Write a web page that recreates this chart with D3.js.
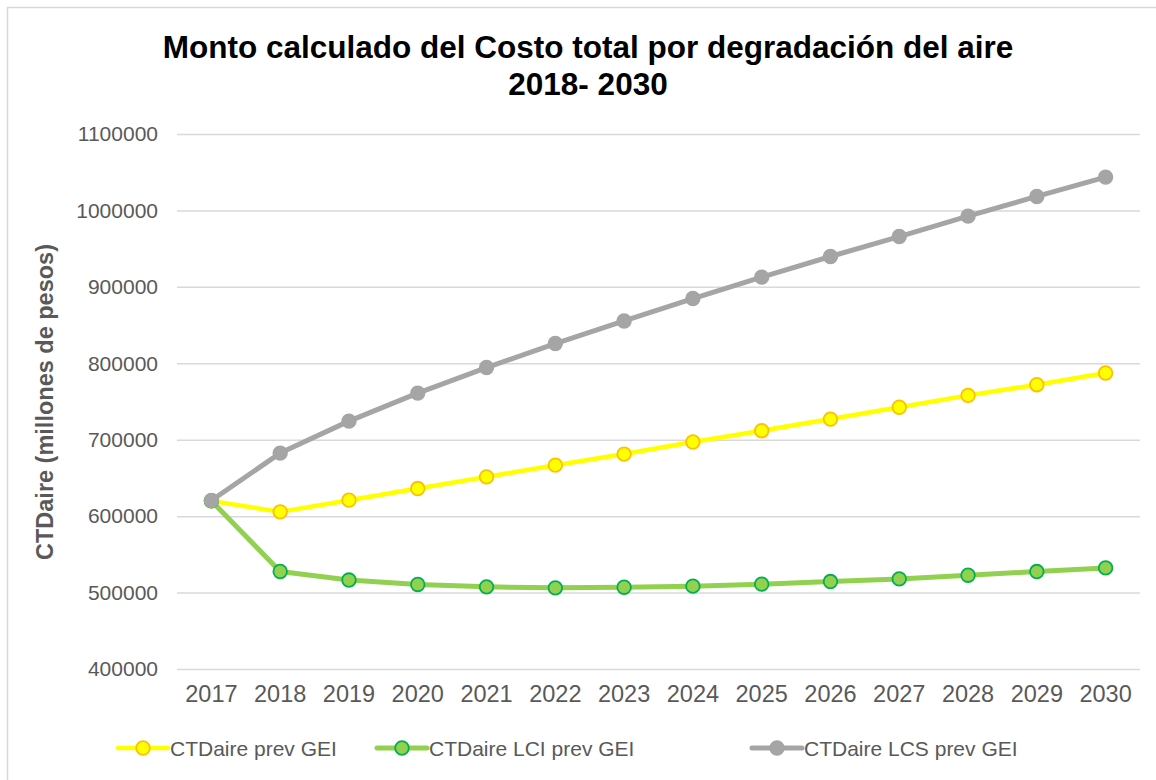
<!DOCTYPE html>
<html>
<head>
<meta charset="utf-8">
<script src="https://cdn.jsdelivr.net/npm/d3@7"></script>
<style>
  html, body { margin: 0; padding: 0; background: #fff; }
  svg { display: block; font-family: "Liberation Sans", Arial, sans-serif; }
</style>
</head>
<body>
<svg id="chart" width="1156" height="780"></svg>
<script>
const years = ["2017","2018","2019","2020","2021","2022","2023","2024","2025","2026","2027","2028","2029","2030"];
const prevGEI = [620000, 605600, 620900, 636100, 651400, 666700, 681200, 697000, 711800, 727000, 742500, 758000, 772000, 787300];
const lciGEI  = [620000, 527600, 516400, 510600, 507500, 506200, 507000, 508400, 511000, 514400, 517900, 522700, 527500, 532300];
const lcsGEI  = [620400, 682500, 724300, 761000, 794400, 825800, 855400, 884700, 912700, 939700, 965800, 992500, 1018300, 1043600];
const yTicks = [400000, 500000, 600000, 700000, 800000, 900000, 1000000, 1100000];
const seriesNames = ["CTDaire prev GEI", "CTDaire LCI prev GEI", "CTDaire LCS prev GEI"];
const titleLines = ["Monto calculado del Costo total por degradación del aire", "2018- 2030"];
const yTitle = "CTDaire (millones de pesos)";

const series = [
  { name: seriesNames[0], values: prevGEI, line: "#FFFF00", fill: "#FFFF00", stroke: "#FFC000", width: 4.5 },
  { name: seriesNames[1], values: lciGEI,  line: "#92D050", fill: "#92D050", stroke: "#00B050", width: 5 },
  { name: seriesNames[2], values: lcsGEI,  line: "#A5A5A5", fill: "#A5A5A5", stroke: "#A5A5A5", width: 5 }
];

const svg = d3.select("#chart");

// outer frame
svg.append("rect").attr("x", 7.5).attr("y", 7.5).attr("width", 1170).attr("height", 800)
  .attr("fill", "#fff").attr("stroke", "#d9d9d9").attr("stroke-width", 1.5);

const m = { left: 177, right: 1140, top: 134, bottom: 669 };
const x = d3.scaleBand().domain(years).range([m.left, m.right]);
const y = d3.scaleLinear().domain([400000, 1100000]).range([m.bottom, m.top]);

// title
const t = svg.append("text").attr("text-anchor", "middle").attr("font-weight", "bold")
  .attr("font-size", 31.5).attr("fill", "#000");
t.append("tspan").attr("x", 588).attr("y", 58).text(titleLines[0]);
t.append("tspan").attr("x", 588).attr("y", 95).text(titleLines[1]);

// gridlines + y labels
const yAxis = d3.axisLeft(y).tickValues(yTicks).tickSize(-(m.right - m.left)).tickPadding(19).tickFormat(d3.format("d"));
const gy = svg.append("g").attr("transform", `translate(${m.left},0)`).call(yAxis);
gy.select(".domain").remove();
gy.selectAll(".tick line").attr("stroke", "#d9d9d9").attr("stroke-width", 1.5);
gy.selectAll(".tick text").attr("fill", "#595959").attr("font-size", 21)
  .attr("font-family", "Liberation Sans, Arial, sans-serif");

// x axis labels
const xAxis = d3.axisBottom(x).tickSize(0).tickPadding(16);
const gx = svg.append("g").attr("transform", `translate(0,${m.bottom})`).call(xAxis);
gx.select(".domain").remove();
gx.selectAll(".tick text").attr("fill", "#595959").attr("font-size", 23.5)
  .attr("font-family", "Liberation Sans, Arial, sans-serif");

// y title
svg.append("text").attr("transform", `translate(53,402) rotate(-90)`).attr("text-anchor", "middle")
  .attr("font-weight", "bold").attr("font-size", 23.5).attr("fill", "#595959").text(yTitle);

const cx = (i) => x(years[i]) + x.bandwidth() / 2;
const line = d3.line().x((d, i) => cx(i)).y(d => y(d));

series.forEach(s => {
  const g = svg.append("g");
  g.append("path").datum(s.values).attr("d", line).attr("fill", "none")
    .attr("stroke", s.line).attr("stroke-width", s.width).attr("stroke-linejoin", "round").attr("stroke-linecap", "round");
  g.selectAll("circle").data(s.values).join("circle")
    .attr("cx", (d, i) => cx(i)).attr("cy", d => y(d)).attr("r", 6.8)
    .attr("fill", s.fill).attr("stroke", s.stroke).attr("stroke-width", 1.8);
});

// legend
const legendX = [118, 377, 752];
const legendY = 748;
series.forEach((s, i) => {
  const g = svg.append("g").attr("transform", `translate(${legendX[i]},${legendY})`);
  g.append("line").attr("x1", 0).attr("x2", 50).attr("y1", 0).attr("y2", 0)
    .attr("stroke", s.line).attr("stroke-width", s.width).attr("stroke-linecap", "round");
  g.append("circle").attr("cx", 25).attr("cy", 0).attr("r", 6.8)
    .attr("fill", s.fill).attr("stroke", s.stroke).attr("stroke-width", 1.8);
  g.append("text").attr("x", 52).attr("y", 8).attr("font-size", 21).attr("fill", "#595959").text(s.name);
});
</script>
</body>
</html>
